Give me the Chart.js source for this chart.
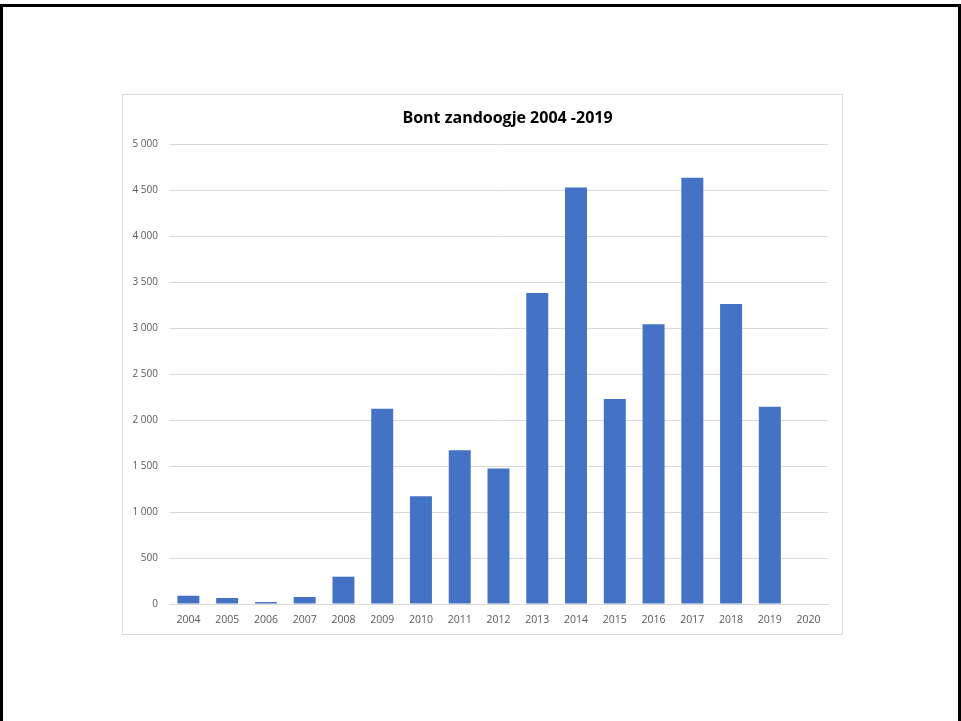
<!DOCTYPE html>
<html>
<head>
<meta charset="utf-8">
<script src="https://cdn.jsdelivr.net/npm/chart.js@4/dist/chart.umd.min.js"></script>
<style>
  html, body { margin: 0; padding: 0; background: #fff; }
  body { width: 961px; height: 721px; position: relative; overflow: hidden; }
  .frame { position: absolute; left: 0; top: 4px; width: 955px; height: 740px;
           border: 3px solid #000; border-bottom: none; }
  .box { position: absolute; left: 122px; top: 94px; width: 719px; height: 539px;
         border: 1px solid #d9d9d9; background: #fff; }
  .box canvas { display: block; }
</style>
</head>
<body>
<div class="frame"></div>
<div class="box"><canvas id="chart" width="719" height="539"></canvas></div>
<script>
// data
const years = ['2004', '2005', '2006', '2007', '2008', '2009', '2010', '2011', '2012',
               '2013', '2014', '2015', '2016', '2017', '2018', '2019', '2020'];
const counts = [90, 65, 22, 76, 297, 2123, 1170, 1670, 1474,
                3380, 4528, 2228, 3040, 4634, 3261, 2145, null];
const chartTitle = 'Bont zandoogje 2004 -2019';

const fontFamily = '"Open Sans", "Liberation Sans", sans-serif';

function fmtThousands(v) {
    return String(v).replace(/\B(?=(\d{3})+(?!\d))/g, ' ');
}

// the title in the original sits a bit right of centre, so draw it ourselves
const offsetTitle = {
    id: 'offsetTitle',
    afterDraw(chart) {
        const c = chart.ctx;
        const area = chart.chartArea;
        c.save();
        c.font = 'bold 16px ' + fontFamily;
        c.fillStyle = '#000';
        c.textAlign = 'center';
        c.textBaseline = 'middle';
        c.fillText(chartTitle, (area.left + area.right) / 2 + 9, 23);
        c.restore();
    }
};

const ctx = document.getElementById('chart');
new Chart(ctx.getContext('2d'), {
    type: 'bar',
    data: {
        labels: years,
        datasets: [{
            data: counts,
            backgroundColor: '#4472C4',
            borderWidth: 0,
            barPercentage: 0.567,
            categoryPercentage: 1
        }]
    },
    options: {
        responsive: false,
        animation: false,
        layout: { padding: { top: 49, right: 14, bottom: 0, left: 0 } },
        plugins: {
            legend: { display: false },
            tooltip: { enabled: false },
            title: { display: false }
        },
        scales: {
            x: {
                grid: { display: false, drawTicks: false },
                border: { display: true, color: '#d9d9d9' },
                ticks: { color: '#595959', padding: 10, maxRotation: 0, autoSkip: false,
                         font: { family: fontFamily, size: 10.5 } },
                afterFit: function (scale) { scale.height = 30; }
            },
            y: {
                min: 0,
                max: 5000,
                grid: { color: '#d9d9d9', drawTicks: false },
                border: { display: false },
                ticks: { stepSize: 500, color: '#595959', padding: 11,
                         font: { family: fontFamily, size: 10 },
                         callback: function (v) { return fmtThousands(v); } },
                afterFit: function (scale) { scale.width = 46; }
            }
        }
    },
    plugins: [offsetTitle]
});
</script>
</body>
</html>
